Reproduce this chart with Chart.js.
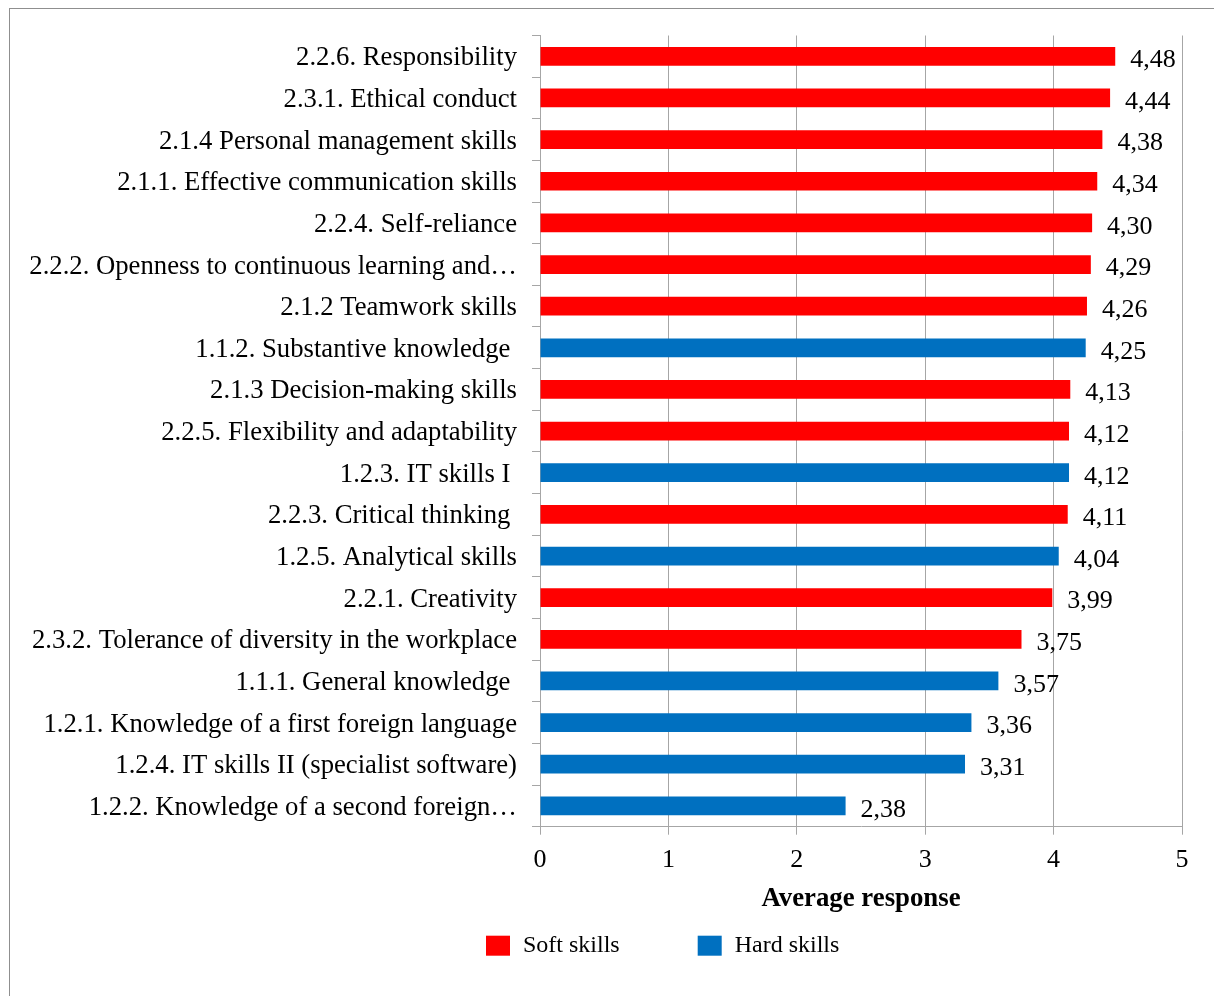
<!DOCTYPE html>
<html>
<head>
<meta charset="utf-8">
<script src="https://cdn.jsdelivr.net/npm/chart.js@4/dist/chart.umd.min.js"></script>
<style>
  html, body { margin: 0; padding: 0; background: #ffffff; }
  canvas { display: block; }
</style>
</head>
<body>
<canvas id="skillsChart" width="1214" height="996"></canvas>
<script>
// Skill items, ordered from highest to lowest average response
const categories = [
  '2.2.6. Responsibility',
  '2.3.1. Ethical conduct',
  '2.1.4 Personal management skills',
  '2.1.1. Effective communication skills',
  '2.2.4. Self-reliance',
  '2.2.2. Openness to continuous learning and\u2026',
  '2.1.2 Teamwork skills',
  '1.1.2. Substantive knowledge ',
  '2.1.3 Decision-making skills',
  '2.2.5. Flexibility and adaptability',
  '1.2.3. IT skills I ',
  '2.2.3. Critical thinking ',
  '1.2.5. Analytical skills',
  '2.2.1. Creativity',
  '2.3.2. Tolerance of diversity in the workplace',
  '1.1.1. General knowledge ',
  '1.2.1. Knowledge of a first foreign language',
  '1.2.4. IT skills II (specialist software)',
  '1.2.2. Knowledge of a second foreign\u2026'
];

// Average response per item (null where the item belongs to the other group)
const softSkills = [4.48, 4.44, 4.38, 4.34, 4.30, 4.29, 4.26, null, 4.13, 4.12, null, 4.11, null, 3.99, 3.75, null, null, null, null];
const hardSkills = [null, null, null, null, null, null, null, 4.25, null, null, 4.12, null, 4.04, null, null, 3.57, 3.36, 3.31, 2.38];

const seriesNames = ['Soft skills', 'Hard skills'];
const seriesColors = ['#ff0000', '#0070c0'];
const axisTitle = 'Average response';
const xMin = 0;
const xMax = 5;
const xStep = 1;

const FONT_FAMILY = "'Liberation Serif', 'Times New Roman', serif";
const GRID_COLOR = '#a6a6a6';
const PLOT_LEFT = 540;

// Thin outer frame around the whole figure
const framePlugin = {
  id: 'frame',
  beforeDraw(chart) {
    const ctx = chart.ctx;
    ctx.save();
    ctx.strokeStyle = '#8f8f8f';
    ctx.lineWidth = 1;
    ctx.strokeRect(9.5, 8.5, chart.width + 20, chart.height + 20);
    ctx.restore();
  }
};

// Value written to the right of each bar, with a decimal comma
const valueLabelPlugin = {
  id: 'valueLabels',
  afterDatasetsDraw(chart) {
    const ctx = chart.ctx;
    ctx.save();
    ctx.font = '26px ' + FONT_FAMILY;
    ctx.fillStyle = '#000000';
    ctx.textAlign = 'left';
    ctx.textBaseline = 'middle';
    chart.data.datasets.forEach((ds, di) => {
      const meta = chart.getDatasetMeta(di);
      meta.data.forEach((bar, i) => {
        const v = ds.data[i];
        if (v === null || v === undefined) return;
        ctx.fillText(v.toFixed(2).replace('.', ','), bar.x + 15, bar.y + 4);
      });
    });
    ctx.restore();
  }
};

// Legend row under the axis title
const legendRowPlugin = {
  id: 'legendRow',
  afterDraw(chart) {
    const ctx = chart.ctx;
    const boxW = 24, boxH = 20, textGap = 13, itemGap = 78;
    const cy = chart.chartArea.bottom + 119;
    let x = 486;
    ctx.save();
    ctx.font = '24px ' + FONT_FAMILY;
    ctx.textAlign = 'left';
    ctx.textBaseline = 'middle';
    chart.data.datasets.forEach((ds) => {
      ctx.fillStyle = ds.backgroundColor;
      ctx.fillRect(x, cy - boxH / 2, boxW, boxH);
      ctx.fillStyle = '#000000';
      ctx.fillText(ds.label, x + boxW + textGap, cy);
      x += boxW + textGap + ctx.measureText(ds.label).width + itemGap;
    });
    ctx.restore();
  }
};

const ctx = document.getElementById('skillsChart').getContext('2d');
new Chart(ctx, {
  type: 'bar',
  data: {
    labels: categories,
    datasets: [
      {
        label: seriesNames[0],
        data: softSkills,
        backgroundColor: seriesColors[0],
        grouped: false,
        barPercentage: 0.45,
        categoryPercentage: 1
      },
      {
        label: seriesNames[1],
        data: hardSkills,
        backgroundColor: seriesColors[1],
        grouped: false,
        barPercentage: 0.45,
        categoryPercentage: 1
      }
    ]
  },
  options: {
    indexAxis: 'y',
    responsive: false,
    animation: false,
    devicePixelRatio: 1,
    layout: {
      padding: { left: 20, right: 32, top: 35.5, bottom: 81.3 }
    },
    plugins: {
      legend: { display: false },
      tooltip: { enabled: false }
    },
    scales: {
      x: {
        min: xMin,
        max: xMax,
        ticks: {
          stepSize: xStep,
          padding: 10,
          color: '#000000',
          font: { family: FONT_FAMILY, size: 26 }
        },
        grid: {
          color: GRID_COLOR,
          tickLength: 8,
          tickColor: GRID_COLOR
        },
        border: { color: GRID_COLOR },
        title: {
          display: true,
          text: axisTitle,
          color: '#000000',
          font: { family: FONT_FAMILY, size: 26.8, weight: 'bold' },
          padding: { top: 0, bottom: 0 }
        },
        afterFit(scale) { scale.height = 88; }
      },
      y: {
        ticks: {
          padding: 15,
          autoSkip: false,
          labelOffset: 2,
          color: '#000000',
          font: { family: FONT_FAMILY, size: 26.7 }
        },
        grid: {
          drawOnChartArea: false,
          drawTicks: true,
          tickLength: 8,
          color: GRID_COLOR,
          tickColor: GRID_COLOR
        },
        border: { color: GRID_COLOR },
        afterFit(scale) { scale.width = PLOT_LEFT - 20; }
      }
    }
  },
  plugins: [framePlugin, valueLabelPlugin, legendRowPlugin]
});
</script>
</body>
</html>
